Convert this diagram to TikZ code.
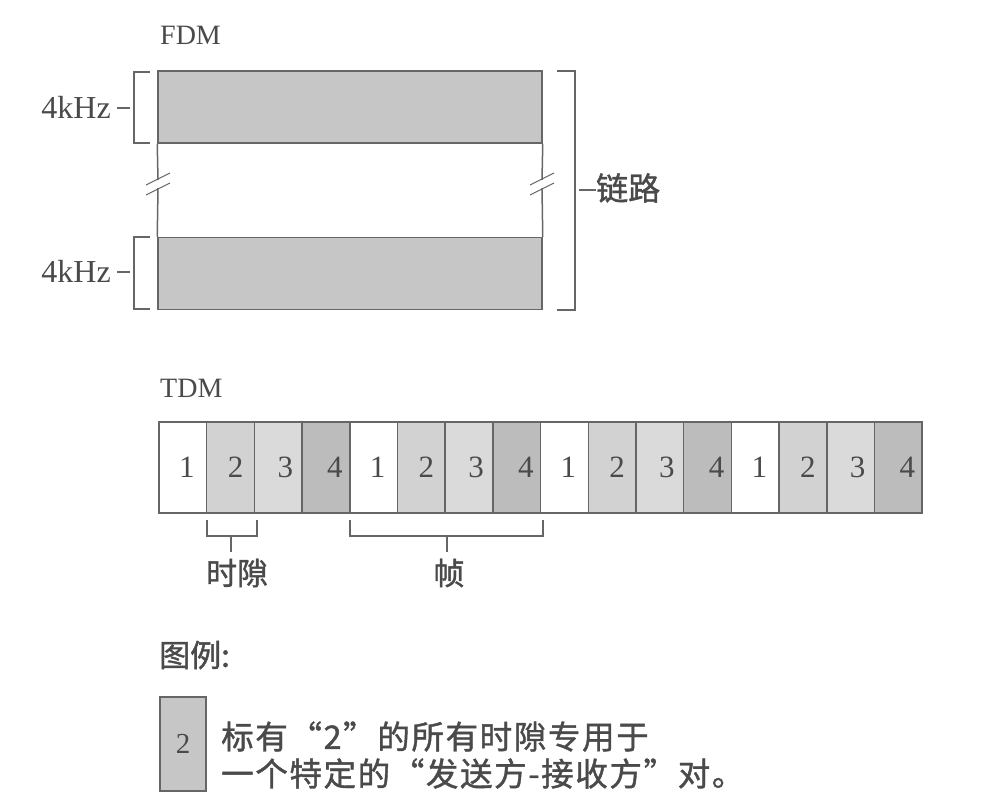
\documentclass[tikz,border=0pt]{standalone}
\usepackage{fontspec}
\setmainfont{Liberation Serif}
\newfontfamily\cjk{Noto Sans CJK SC}[FakeBold=1.2]
\newfontfamily\cjkwide{Noto Sans CJK SC}[FakeBold=1.2,LetterSpace=5]
\definecolor{ln}{HTML}{666666}
\definecolor{txt}{HTML}{4A4A4A}
\definecolor{fdmfill}{HTML}{C6C6C6}
\definecolor{fa}{HTML}{FFFFFF}
\definecolor{fb}{HTML}{D2D2D2}
\definecolor{fc}{HTML}{DADADA}
\definecolor{fd}{HTML}{BCBCBC}
\begin{document}
\begin{tikzpicture}[x=1pt,y=-1pt,
  lines/.style={draw=ln,line width=1.5pt},
  thin/.style={draw=ln,line width=1.1pt},
  band/.style={lines,fill=fdmfill,minimum width=384,minimum height=72,inner sep=0pt},
  cell/.style={lines,minimum width=47.7,minimum height=91,inner sep=0pt},
  lat/.style={text=txt,inner sep=0pt,font=\fontsize{27}{30}\selectfont},
  zh/.style={text=txt,inner sep=0pt,font=\cjk\fontsize{31}{35}\selectfont}]
\useasboundingbox (0,0) rectangle (1000,798);
\fill[white] (0,0) rectangle (1000,798);
% FDM
\node[lat,anchor=west,font=\fontsize{28}{30}\selectfont] (fdm) at (160,35) {FDM};
\node[band] (b1) at (350,107) {};
\node[band] (b2) at (350,273.5) {};
\coordinate (lg1) at (158,180);
\coordinate (lg2) at (158,188);
\coordinate (rg1) at (542,180);
\coordinate (rg2) at (542,188);
\draw[lines] (b1.south west) -- (lg1);
\draw[lines] (lg2) -- (b2.north west);
\draw[lines] (b1.south east) -- (rg1);
\draw[lines] (rg2) -- (b2.north east);
\foreach \xx in {158,542}{
  \draw[thin] (\xx-12,185) -- (\xx+12,173);
  \draw[thin] (\xx-12,195) -- (\xx+12,183);
}
% left brackets
\draw[thin] (150,72) -- (134,72) -- (134,143) -- (150,143);
\draw[thin] (150,237) -- (134,237) -- (134,309) -- (150,309);
\coordinate (d1) at (130,108);
\coordinate (d2) at (130,272);
\node[lat,anchor=east,font=\fontsize{32}{34}\selectfont] (k1) at (111,107) {4kHz};
\node[lat,anchor=east,font=\fontsize{32}{34}\selectfont] (k2) at (111,271) {4kHz};
\draw[thin] ([xshift=6pt]k1.east|-d1) -- (d1);
\draw[thin] ([xshift=6pt]k2.east|-d2) -- (d2);
% right bracket
\draw[thin] (557,71) -- (575,71) -- (575,310) -- (557,310);
\node[zh,anchor=west,font=\cjk\fontsize{32}{35}\selectfont] (link) at (596,188) {链路};
\coordinate (rt) at (579,190);
\draw[thin] (rt) -- (link.west|-rt);
% TDM
\node[lat,anchor=west,font=\fontsize{28}{30}\selectfont] (tdm) at (160,388) {TDM};
\foreach \i/\n/\c/\s in {1/1/fa/4,2/2/fb/5,3/3/fc/7,4/4/fd/9,5/1/fa/4,6/2/fb/5,7/3/fc/7,8/4/fd/9,9/1/fa/4,10/2/fb/5,11/3/fc/7,12/4/fd/9,13/1/fa/4,14/2/fb/5,15/3/fc/7,16/4/fd/9}{
  \node[cell,fill=\c] (c\i) at ({159+(\i-0.5)*47.7},467.5) {};
  \node[lat,font=\fontsize{31}{33}\selectfont] (n\i) at ([xshift=\s pt]c\i.center) {\n};
}
% slot bracket
\coordinate (sa) at (207,520);
\coordinate (sb) at (257,520);
\coordinate (sm) at (231,536);
\draw[thin] (sa) -- (207,536) -- (257,536) -- (sb);
\node[zh] (slot) at (237,573) {时隙};
\draw[thin] (sm) -- (231,552);
% frame bracket
\coordinate (fa1) at (350,520);
\coordinate (fb1) at (543,520);
\coordinate (fm) at (447,536);
\draw[thin] (fa1) -- (350,536) -- (543,536) -- (fb1);
\node[zh] (frame) at (449,573) {帧};
\draw[thin] (fm) -- (447,552);
% legend
\node[zh,anchor=west] (leg) at (159,655) {图例:};
\node[lines,fill=fdmfill,minimum width=46,minimum height=94,inner sep=0pt] (lbox) at (183,744) {};
\node[lat,font=\fontsize{29}{30}\selectfont] (l2) at (lbox.center) {2};
\node[zh,anchor=west,align=left,font=\cjkwide\fontsize{32.5}{37}\selectfont] (ltext) at (221,755) {标有“2”的所有时隙专用于\\一个特定的“发送方-接收方”对。};
\end{tikzpicture}
\end{document}
